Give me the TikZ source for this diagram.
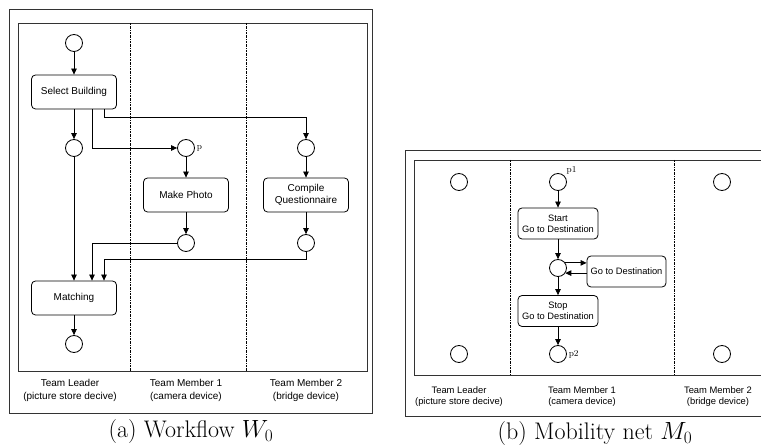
\documentclass[tikz,border=0pt]{standalone}
\usepackage{fontspec}
\newfontfamily\lanefont{Liberation Sans}
\usetikzlibrary{arrows.meta}
\tikzset{
  place/.style={circle,draw,minimum size=17pt,inner sep=0pt},
  task/.style={draw,rounded corners=4pt,align=center,inner sep=1pt,
    minimum width=85pt,minimum height=34pt,font=\lanefont\fontsize{10}{12}\selectfont},
  mobtask/.style={task,minimum width=80pt,minimum height=31pt,
    font=\lanefont\fontsize{9.3}{11}\selectfont},
  frame/.style={draw=black!80,line width=0.9pt},
  lane/.style={line width=0.5pt,dash pattern=on 2pt off 1pt on 0.5pt off 1pt},
  lanelbl/.style={align=center,font=\lanefont\fontsize{10}{13}\selectfont},
  moblbl/.style={align=center,font=\lanefont\fontsize{9.4}{11.5}\selectfont},
  plbl/.style={font=\fontsize{9}{10}\selectfont,inner sep=1.5pt},
  caption/.style={font=\fontsize{24}{28}\selectfont}
}
\begin{document}
\begin{tikzpicture}[x=1pt,y=-1pt,>={Triangle[length=6pt,width=5.5pt]},line width=0.8pt]
  \useasboundingbox (0,0) rectangle (761,446);
  % (a) workflow
  \draw[frame] (9,9) rectangle (372,413);
  \draw[frame] (18,23) rectangle (367,371);
  \draw[lane] (130,23) -- (130,371);
  \draw[lane] (246,23) -- (246,371);
  \node[place] (wi) at (74,43) {};
  \node[task] (sb) at (74,92) {Select Building};
  \node[place] (wa) at (74,148) {};
  \node[place,label={[plbl]right:p}] (wp) at (186,148) {};
  \node[place] (wb) at (306,148) {};
  \node[task] (mp) at (186,195) {Make Photo};
  \node[task] (cq) at (306,195) {Compile\\Questionnaire};
  \node[place] (wc) at (186,243) {};
  \node[place] (wd) at (306,243) {};
  \node[task] (mt) at (74,298) {Matching};
  \node[place] (wo) at (74,344) {};
  \draw[->] (wi) -- (sb);
  \draw[->] (sb) -- (wa);
  \draw[->] ([xshift=18pt]sb.south) |- (wp);
  \draw[->] ([xshift=30pt]sb.south) -- ++(0,8) -| (wb);
  \draw[->] (wp) -- (mp);
  \draw[->] (wb) -- (cq);
  \draw[->] (mp) -- (wc);
  \draw[->] (cq) -- (wd);
  \draw[->] (wa) -- (mt);
  \draw[->] (wc) -| ([xshift=18pt]mt.north);
  \draw[->] (wd) -- ++(0,16) -| ([xshift=30pt]mt.north);
  \draw[->] (mt) -- (wo);
  \node[lanelbl] (wl1) at (70,390.5) {Team Leader\\(picture store decive)};
  \node[lanelbl] (wl2) at (186,390.5) {Team Member 1\\(camera device)};
  \node[lanelbl] (wl3) at (306,390.5) {Team Member 2\\(bridge device)};
  \node[caption] (capa) at (191,432) {(a) Workflow $W_0$};
  % (b) mobility net
  \draw[frame] (405,150) rectangle (775,416);
  \draw[frame] (414,160) rectangle (765,375);
  \draw[lane] (510,160) -- (510,375);
  \draw[lane] (674,160) -- (674,375);
  \node[place] (ma1) at (459,182) {};
  \node[place,label={[plbl]40:p1}] (mp1) at (558,182) {};
  \node[place] (mb1) at (722,182) {};
  \node[mobtask] (st) at (558,223.5) {Start\\Go to Destination};
  \node[place] (mm) at (558,268) {};
  \node[mobtask,minimum width=79pt] (gd) at (626.5,271.5) {Go to Destination};
  \node[mobtask] (sp) at (558,311) {Stop\\Go to Destination};
  \node[place] (ma2) at (459,354) {};
  \node[place,label={[plbl]right:p2}] (mp2) at (558,354) {};
  \node[place] (mb2) at (722,354) {};
  \draw[->] (mp1) -- (st);
  \draw[->] (st) -- (mm);
  \draw[->] (mm.35) -- (mm.35 -| gd.west);
  \draw[->] (gd.west |- mm.-35) -- (mm.-35);
  \draw[->] (mm) -- (sp);
  \draw[->] (sp) -- (mp2);
  \node[moblbl] (ml1) at (459,396.5) {Team Leader\\(picture store decive)};
  \node[moblbl] (ml2) at (582,396.5) {Team Member 1\\(camera device)};
  \node[moblbl] (ml3) at (718,396.5) {Team Member 2\\(bridge device)};
  \node[caption] (capb) at (595,434) {(b) Mobility net $M_0$};
\end{tikzpicture}
\end{document}
